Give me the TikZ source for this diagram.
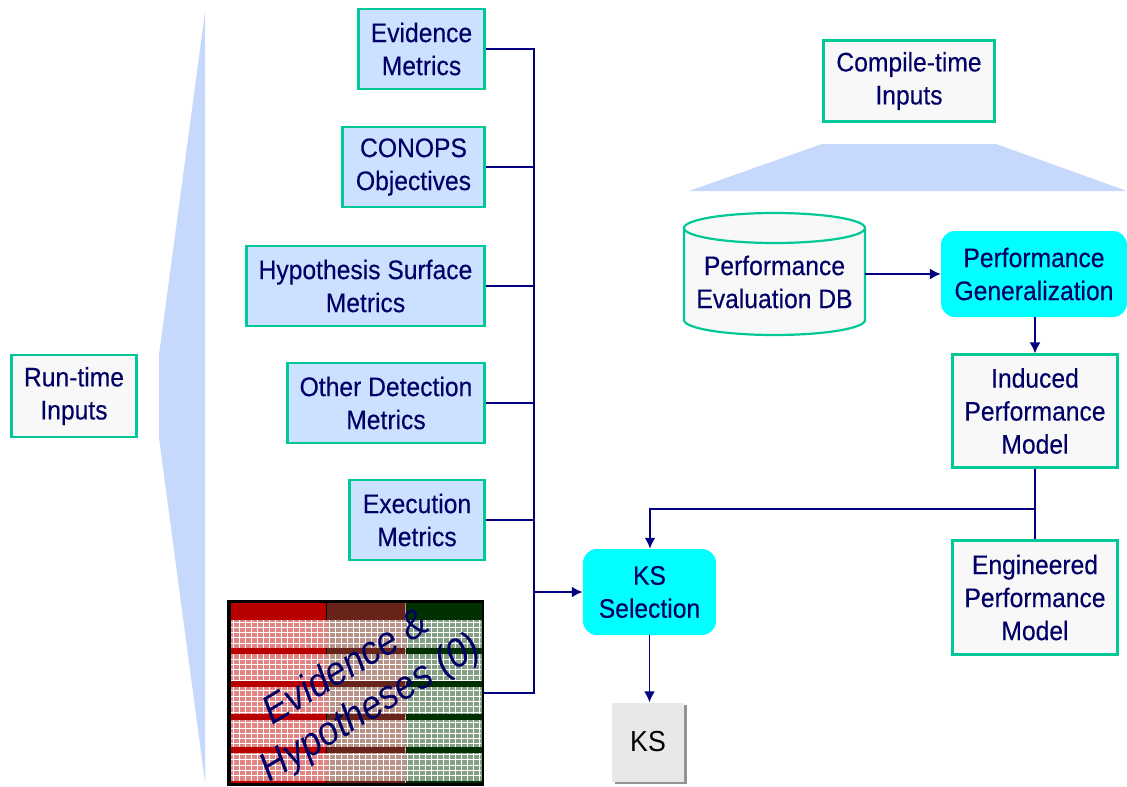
\documentclass[tikz,border=0pt]{standalone}
\usepackage{fontspec}
\setmainfont[FakeStretch=0.92,FakeBold=0.25]{Liberation Sans}
\newfontfamily\plainfont[FakeStretch=0.92]{Liberation Sans}
\usetikzlibrary{arrows.meta}
\definecolor{navytext}{HTML}{000066}
\definecolor{wire}{HTML}{000080}
\definecolor{teal}{HTML}{00C896}
\definecolor{paleblue}{HTML}{CCE0FF}
\definecolor{funnel}{HTML}{C6D9FD}
\definecolor{offwhite}{HTML}{F8F8F8}
\definecolor{procfill}{RGB}{0,255,255}
\definecolor{hdrred}{HTML}{B80000}
\definecolor{hdrbrown}{HTML}{68241A}
\definecolor{hdrgreen}{HTML}{003000}
\definecolor{cellred}{HTML}{E08484}
\definecolor{cellbrown}{HTML}{B89488}
\definecolor{cellgreen}{HTML}{84A084}
\definecolor{ksgrey}{HTML}{E8E8E8}
\tikzset{
  lbl/.style={align=center,text=navytext,font=\fontsize{26.8}{33}\selectfont,inner sep=0pt},
  down/.style={execute at begin node={\vspace*{#1pt}}},
  metric/.style={lbl,draw=teal,line width=2.2pt,fill=paleblue,minimum height=80pt},
  plain/.style={lbl,draw=teal,line width=2.2pt,fill=offwhite},
  proc/.style={lbl,fill=procfill,rounded corners=14pt},
  wireline/.style={draw=wire,line width=1.7pt},
  arrow/.style={wireline,-{Latex[length=11pt,width=11pt]}},
  hyp/.style={align=center,text=navytext,font=\plainfont\fontsize{40}{47}\selectfont\itshape,inner sep=0pt}
}
\begin{document}
\begin{tikzpicture}[x=1pt,y=-1pt]
\useasboundingbox (0,0) rectangle (1127,787);
% funnels
\fill[funnel] (205,12) -- (159,355) -- (159,438) -- (205,782) -- cycle;
\fill[funnel] (689,191) -- (822,144) -- (996,144) -- (1127,191) -- cycle;
% grid table
\node[fill=black,minimum width=257pt,minimum height=186pt,inner sep=0pt] (grid) at (355.5,693) {};
\fill[cellred] (231,603) rectangle (327,783);
\fill[cellbrown] (327,603) rectangle (405.5,783);
\fill[cellgreen] (405.5,603) rectangle (482,783);
\begin{scope}
\clip (231,620) rectangle (481,781);
\foreach \x in {0,...,42} \draw[white,line width=0.9pt] ({233+6*\x},620) -- ({233+6*\x},783);
\foreach \y in {0,...,31} \draw[white,line width=0.9pt] (231,{622+5.3*\y}) -- (481,{622+5.3*\y});
\end{scope}
\foreach \t/\b in {603/620,648/653.5,681/686.5,714/719.5,747/752.5,781/783}{
  \fill[hdrred] (231,\t) rectangle (326,\b);
  \fill[black] (326,\t) rectangle (327,\b);
  \fill[hdrbrown] (327,\t) rectangle (405,\b);
  \fill[hdrgreen] (405.5,\t) rectangle (481.5,\b);
}
\node[hyp,rotate=31] (evh) at (359,689) {Evidence \&\\Hypotheses (0)};
% boxes
\node[metric,down=4,minimum width=126pt] (ev) at (421.5,49) {Evidence\\Metrics};
\node[metric,down=9,minimum width=142pt] (co) at (413.5,167) {CONOPS\\Objectives};
\node[metric,down=2,minimum width=238pt] (hy) at (365.5,286) {Hypothesis Surface\\Metrics};
\node[metric,down=4,minimum width=197pt] (ot) at (386,403) {Other Detection\\Metrics};
\node[metric,down=4,minimum width=135pt] (ex) at (417,520) {Execution\\Metrics};
\node[plain,down=8,minimum width=125pt,minimum height=82pt] (run) at (74,396) {Run-time\\Inputs};
\node[plain,down=8,minimum width=171pt,minimum height=81pt] (comp) at (909,81) {Compile-time\\Inputs};
\node[plain,down=2,minimum width=165pt,minimum height=113pt] (ind) at (1035,411) {Induced\\Performance\\Model};
\node[plain,minimum width=165pt,minimum height=114pt] (eng) at (1035,597.5) {Engineered\\Performance\\Model};
\node[proc,down=6,minimum width=133pt,minimum height=86pt] (sel) at (649.5,592) {KS\\Selection};
\node[proc,down=2,minimum width=186pt,minimum height=86pt] (gen) at (1034,274) {Performance\\Generalization};
% KS box with shadow
\fill[gray!85] (615,705) rectangle (687,784);
\node[lbl,down=6,fill=ksgrey,text=black,font=\plainfont\fontsize{29}{33}\selectfont,minimum width=72pt,minimum height=79pt] (ks) at (648,742) {KS};
% database
\draw[teal,line width=2.2pt,fill=offwhite] (684,228) -- (684,320) arc[start angle=180,end angle=360,x radius=90.5pt,y radius=15pt] -- (865,228) arc[start angle=0,end angle=180,x radius=90.5pt,y radius=15pt] -- cycle;
\draw[teal,line width=2.2pt] (684,228) arc[start angle=180,end angle=360,x radius=90.5pt,y radius=15pt];
\node[lbl,minimum width=181pt,minimum height=107pt] (db) at (774.5,282) {Performance\\Evaluation DB};
% connectors
\coordinate (bustop) at (534,49);
\coordinate (busbot) at (534,693);
\coordinate (busout) at (534,592);
\coordinate (merge) at (1035,509);
\coordinate (bend) at (650,509);
\draw[wireline] (ev.east) -- (bustop) -- (busbot) -- (grid.east);
\draw[wireline] (co.east) -- (co.east -| bustop);
\draw[wireline] (hy.east) -- (hy.east -| bustop);
\draw[wireline] (ot.east) -- (ot.east -| bustop);
\draw[wireline] (ex.east) -- (ex.east -| bustop);
\draw[arrow,line width=2.6pt] (busout) -- (sel.west);
\draw[wireline] (ind.south) -- (eng.north);
\draw[arrow,line width=2.6pt] (merge) -- (bend) -- (sel.north -| bend);
\draw[arrow] (db.east |- gen.west) -- (gen.west);
\draw[arrow] (gen.south -| ind.north) -- (ind.north);
\draw[arrow] (sel.south) -- (ks.north -| sel.south);
\end{tikzpicture}
\end{document}
